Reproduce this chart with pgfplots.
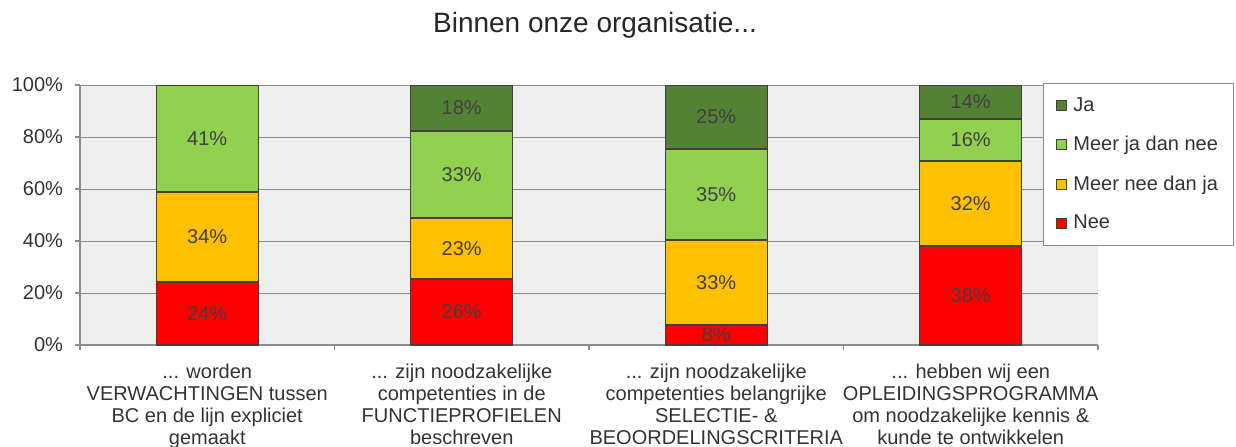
\documentclass[border=0pt]{standalone}
\usepackage{pgfplots}
\pgfplotsset{compat=1.18}
\usepackage{fontspec}
\setmainfont{Liberation Sans}
\definecolor{cJa}{HTML}{548235}
\definecolor{cMJ}{HTML}{92D050}
\definecolor{cMN}{HTML}{FFC000}
\definecolor{cNee}{HTML}{FF0000}
\definecolor{cEdge}{HTML}{404040}
\definecolor{cGrid}{HTML}{8C8C8C}
\definecolor{cBg}{HTML}{EEEEEE}
\newcommand\ddd{...}
\begin{document}
\begin{tikzpicture}[x=1pt,y=1pt]
\path[use as bounding box] (0,0) rectangle (618,223);
\node[font=\fontsize{14}{16}\selectfont, text=black!85] at (297.5,210.5) {Binnen onze organisatie...};
\begin{axis}[
  at={(40pt,50.5pt)}, anchor=south west,
  width=509pt, height=130pt, scale only axis,
  ybar stacked, bar width=51pt,
  xmin=-0.5, xmax=3.5, ymin=0, ymax=100,
  axis x line*=bottom, axis y line*=left,
  axis line style={draw=cGrid, line width=0.6pt},
  axis background/.style={fill=cBg},
  ymajorgrids, grid style={draw=cGrid, line width=0.5pt},
  tick style={draw=cGrid, line width=0.6pt},
  tick align=outside, major tick length=2.5pt,
  ytick={0,20,40,60,80,100},
  yticklabels={0\%,20\%,40\%,60\%,80\%,100\%},
  yticklabel style={font=\fontsize{10}{12}\selectfont, text=black!80, xshift=-2.5pt},
  xtick={-0.5,0.5,1.5,2.5,3.5}, xticklabels={},
  extra x ticks={0,1,2,3},
  extra x tick style={major tick length=0pt, grid=none},
  extra x tick labels={
    {\ddd{} worden\\VERWACHTINGEN tussen\\BC en de lijn expliciet\\gemaakt},
    {\ddd{} zijn noodzakelijke\\competenties in de\\FUNCTIEPROFIELEN\\beschreven},
    {\ddd{} zijn noodzakelijke\\competenties belangrijke\\SELECTIE- \&\\BEOORDELINGSCRITERIA},
    {\ddd{} hebben wij een\\OPLEIDINGSPROGRAMMA\\om noodzakelijke kennis \&\\kunde te ontwikkelen}},
  xticklabel style={align=center, font=\fontsize{10}{11}\selectfont, text=black!80, anchor=north, yshift=-6pt},
  reverse legend,
  legend cell align=left,
  legend style={at={(axis description cs:0.946,1.008)}, anchor=north west,
    draw=cGrid, fill=white, font=\fontsize{10}{12}\selectfont, text=black!80,
    row sep=7pt, inner xsep=5.5pt, inner ysep=5pt},
  legend image code/.code={\draw[#1,draw=cEdge,line width=0.6pt] (1pt,-2.5pt) rectangle (6pt,2.5pt); \path[draw=none,fill=none] (0pt,0pt) -- (7.5pt,0pt);},
]
\addplot[fill=cNee, draw=cEdge, line width=0.7pt] coordinates {(0,24.2) (1,25.4) (2,7.7) (3,38.1)};
\addlegendentry{Nee}
\addplot[fill=cMN, draw=cEdge, line width=0.7pt] coordinates {(0,34.6) (1,23.4) (2,32.7) (3,32.7)};
\addlegendentry{Meer nee dan ja}
\addplot[fill=cMJ, draw=cEdge, line width=0.7pt] coordinates {(0,41.2) (1,33.5) (2,35.0) (3,16.1)};
\addlegendentry{Meer ja dan nee}
\addplot[fill=cJa, draw=cEdge, line width=0.7pt] coordinates {(0,0) (1,17.7) (2,24.6) (3,13.1)};
\addlegendentry{Ja}
\end{axis}
\begin{axis}[
  at={(40pt,50.5pt)}, anchor=south west,
  width=509pt, height=130pt, scale only axis,
  xmin=-0.5, xmax=3.5, ymin=0, ymax=100, hide axis,
]
\addplot[draw=none, nodes near coords={\pgfplotspointmeta\%}, point meta=explicit symbolic,
  every node near coord/.style={anchor=center, font=\fontsize{10}{12}\selectfont, text=black!75}]
  table[meta=lab] {
x y lab
0 12.1 24
0 41.5 34
0 79.4 41
1 12.7 26
1 37.1 23
1 65.55 33
1 91.15 18
2 3.85 8
2 24.05 33
2 57.9 35
2 87.7 25
3 19.05 38
3 54.45 32
3 78.85 16
3 93.45 14
};
\end{axis}
\end{tikzpicture}
\end{document}
